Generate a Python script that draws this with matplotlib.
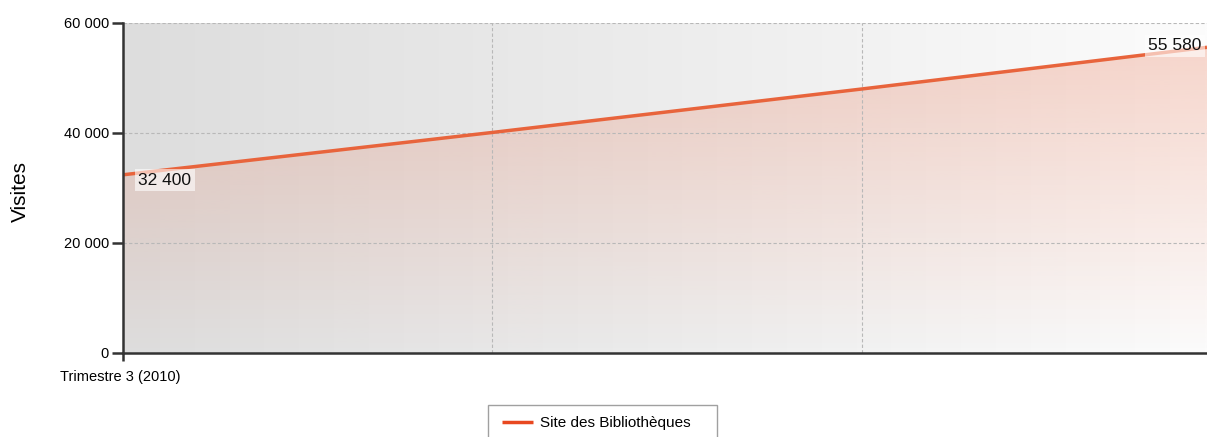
import numpy as np
import matplotlib
matplotlib.use("Agg")
import matplotlib.pyplot as plt
import matplotlib.dates as mdates
import matplotlib.transforms as mtrans
from matplotlib.colors import to_rgb
from matplotlib.patches import PathPatch, Rectangle
import datetime as dt

plt.rcParams['font.family'] = ['Liberation Sans', 'DejaVu Sans']

# ---- data ----
dates = ["2010-07-01", "2010-10-01", "2011-01-01", "2011-03-28"]
visits = [32400, 40100, 48000, 55580]
first_tick_label = "Trimestre 3 (2010)"
series_name = "Site des Bibliothèques"
y_label = "Visites"
y_ticks = [0, 20000, 40000, 60000]

def fmt(v):
    return f"{int(v):,}".replace(",", " ")

x = mdates.date2num([dt.datetime.strptime(d, "%Y-%m-%d") for d in dates])
y = np.array(visits, dtype=float)

W, H = 1207, 437
fig = plt.figure(figsize=(W / 100, H / 100), dpi=100)
ax = fig.add_axes([123 / W, 1 - 353 / H, (1207 - 123) / W, (353 - 23) / H])

x0, x1 = x[0], x[-1]
ymax = 60000
ax.set_xlim(x0, x1)
ax.set_ylim(0, ymax)

# background horizontal gradient
bg_left = np.array(to_rgb("#dddddd"))
bg_right = np.array(to_rgb("#fcfcfc"))
t = np.linspace(0, 1, 256)
bg = (bg_left[None, :] * (1 - t[:, None]) + bg_right[None, :] * t[:, None])[None, :, :]
ax.imshow(bg, extent=[x0, x1, 0, ymax], aspect='auto', zorder=0, interpolation='bilinear')

# fill under line: vertical gradient of red fading downward
red = np.array(to_rgb("#e8643c"))
n = 256
alpha = np.linspace(0.0, 0.27, n)[:, None]
grad = np.zeros((n, 1, 4))
grad[:, :, :3] = red
grad[:, :, 3] = alpha
im = ax.imshow(grad, extent=[x0, x1, 0, ymax], origin='lower', aspect='auto',
               zorder=1, interpolation='bilinear')
poly = ax.fill_between(x, y, 0, color='none', lw=0)
patch = PathPatch(poly.get_paths()[0], transform=ax.transData, facecolor='none', edgecolor='none')
ax.add_patch(patch)
im.set_clip_path(patch)

# ticks and grid
ax.set_yticks(y_ticks)
ax.set_yticklabels([fmt(v) for v in y_ticks])
ax.set_xticks(x[:3])
ax.set_xticklabels([first_tick_label, "", ""])
ax.grid(True, color="#b8b8b8", linestyle=(0, (3, 2)), linewidth=0.8, zorder=2)
ax.set_axisbelow(False)
for gl in ax.get_xgridlines() + ax.get_ygridlines():
    gl.set_zorder(2)

# line
line, = ax.plot(x, y, color="#e8643c", lw=2.5, zorder=4, solid_capstyle='butt',
                label=series_name)

# value labels
bbox = dict(boxstyle="square,pad=0.2", fc="white", ec="none", alpha=0.6)
ax.annotate(fmt(y[0]), (x[0], y[0]), xytext=(11, -4), textcoords='offset points',
            fontsize=12.5, va='center', ha='left', bbox=bbox, zorder=5, color="#111111")
ax.annotate(fmt(y[-1]), (x[-1], y[-1]), xytext=(-4, 1), textcoords='offset points',
            fontsize=12.5, va='center', ha='right', bbox=bbox, zorder=5, color="#111111")

# spines / ticks
for s in ['top', 'right']:
    ax.spines[s].set_visible(False)
for s in ['left', 'bottom']:
    ax.spines[s].set_color("#333333")
    ax.spines[s].set_linewidth(1.8)
    ax.spines[s].set_zorder(6)
ax.tick_params(axis='y', length=8, width=1.8, color="#333333", labelsize=10.5, pad=2)
ax.tick_params(axis='x', length=6, width=1.8, color="#333333", labelsize=10.5, pad=6)
for i, tk in enumerate(ax.xaxis.get_major_ticks()):
    if i > 0:
        tk.tick1line.set_visible(False)
lbl = ax.get_xticklabels()[0]
lbl.set_ha('left')
lbl.set_transform(lbl.get_transform() + mtrans.ScaledTranslation(-63 / 100, 0, fig.dpi_scale_trans))

fig.text(20 / W, 1 - 191 / H, y_label, rotation=90, fontsize=15, va='center', ha='center')

# legend (bottom cut off by the image edge)
fig.add_artist(Rectangle((488 / W, 1 - 447 / H), (717 - 488) / W, (447 - 405) / H,
                         transform=fig.transFigure, facecolor='white',
                         edgecolor="#a0a0a0", lw=1.0, zorder=3))
leg = fig.legend(handles=[line], labels=[series_name], loc='upper left',
                 bbox_to_anchor=(491 / W, 1 - 405 / H), frameon=False,
                 fontsize=11, handlelength=2.0, borderpad=0.75,
                 handletextpad=0.45, borderaxespad=0)
leg.set_zorder(4)
leg.legend_handles[0].set_color("#e84820")
leg.legend_handles[0].set_linewidth(2.5)

fig.savefig("out.png", dpi=100)
